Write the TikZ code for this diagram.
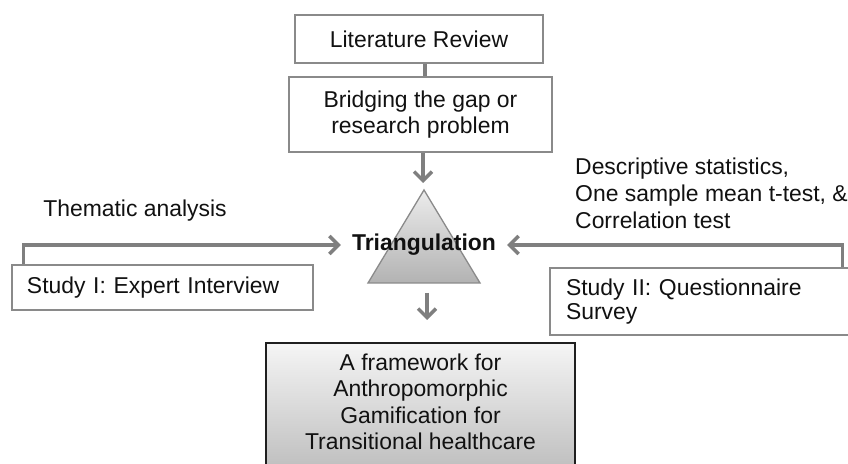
\documentclass[tikz,border=0pt]{standalone}
\usepackage{fontspec}
\setmainfont{Liberation Sans}
\usetikzlibrary{arrows.meta}
\definecolor{linegray}{HTML}{7F7F7F}
\definecolor{boxgray}{HTML}{8A8A8A}
\definecolor{txt}{HTML}{111111}
\tikzset{
  box/.style={draw=boxgray, line width=1.3bp, fill=white, inner sep=0pt, text=txt,
    font=\fontsize{23}{26}\selectfont},
  framebox/.style={draw=black!88, line width=2bp, top color=gray!8, bottom color=gray!55,
    inner sep=0pt},
  conn/.style={draw=linegray, line width=3.5bp},
  arr/.style={conn, -{Straight Barb[length=9bp,width=18bp]}},
  lbl/.style={inner sep=0pt, text=txt, font=\fontsize{23}{27}\selectfont},
  tri/.style={draw=boxgray, line width=1.3bp, top color=gray!15, bottom color=gray!60}
}
\begin{document}
\begin{tikzpicture}[x=1bp,y=-1bp]
\useasboundingbox (0,0) rectangle (848,464);
\clip (0,0) rectangle (848,464);
\fill[white] (0,0) rectangle (848,464);

% boxes
\node[box, minimum width=248bp, minimum height=48bp] (lit) at (419,39) {Literature Review};
\node[box, minimum width=263bp, minimum height=75bp, align=center] (bridge) at (420.5,114.5)
  {Bridging the gap or\\research problem};
\node[box, minimum width=301bp, minimum height=45bp, text width=271bp, align=left] (study1)
  at (162.5,287.5) {Study I: Expert Interview};
\node[box, minimum width=312bp, minimum height=67bp, text width=280bp, align=left,
  font=\fontsize{23}{24}\selectfont] (study2) at (706,301.5) {Study II: Questionnaire\\Survey};
\node[framebox, anchor=north, minimum width=309bp, minimum height=140bp]
  (frame) at (420.5,342) {};
\node[lbl, align=center, font=\fontsize{23}{26.6}\selectfont] (frametext) at (420.5,402)
  {A framework for\\Anthropomorphic\\Gamification for\\Transitional healthcare};

% triangle
\coordinate (apex) at (424,190);
\coordinate (bl) at (368,283);
\coordinate (br) at (480,283);
\coordinate (tbase) at (427,283);
\path[tri] (apex) -- (br) -- (bl) -- cycle;
\node[lbl, inner xsep=11bp, font=\fontsize{23}{27}\selectfont\bfseries] (tlabel) at (424,245) {Triangulation};

% labels
\node[lbl] (thematic) at (135,211) {Thematic analysis};
\node[lbl, anchor=west, align=left] (desc) at (575,193)
  {Descriptive statistics,\\One sample mean t-test, \&\\Correlation test};

% connectors
\draw[conn] ([xshift=6bp]lit.south) -- ([xshift=6bp]lit.south |- bridge.north);
\draw[arr, shorten >=7bp] ([xshift=2.5bp]bridge.south) -- ([xshift=2.5bp]bridge.south |- apex);
\draw[arr] ([xshift=12bp]study1.north west) |- (tlabel.west);
\draw[arr] ([xshift=-20bp]study2.north east) |- (tlabel.east);
\draw[arr, shorten <=10bp, shorten >=22bp] (tbase) -- (tbase |- frame.north);
\end{tikzpicture}
\end{document}
